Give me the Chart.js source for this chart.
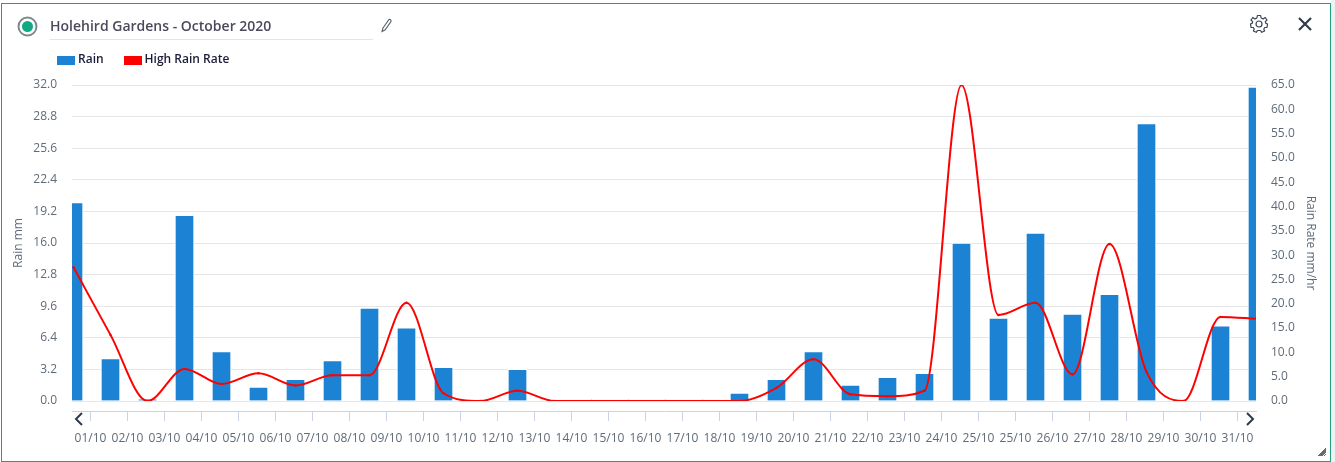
<!DOCTYPE html>
<html>
<head>
<meta charset="utf-8">
<title>Holehird Gardens - October 2020</title>
<script src="https://cdn.jsdelivr.net/npm/chart.js@4"></script>
<style>
    html, body { margin: 0; padding: 0; background: #fff; }
    #strip { position: absolute; left: 1331px; top: 0; width: 4px; height: 462px; background: #f1f1f1; }
    #panel { position: absolute; left: 1px; top: 3px; width: 1328px; height: 457px; background: #fff; border: 1px solid #1f9e86; }
    #wrap { position: absolute; left: 0; top: 0; width: 1335px; height: 462px; }
    #title { position: absolute; left: 50px; top: 16px; width: 323px; height: 23px; border-bottom: 1px solid #e4e4e4; font: 600 14px "Open Sans", sans-serif; line-height: 20px; color: #4a4a5c; white-space: nowrap; }
    svg.icon { position: absolute; overflow: visible; }
</style>
</head>
<body>
<div id="strip"></div>
<div id="panel"></div>
<div id="wrap"><canvas id="chart" width="1335" height="462"></canvas></div>
<div id="title">Holehird Gardens - October 2020</div>

<!-- иконки заголовка -->
<svg class="icon" style="left:17px;top:16px" width="21" height="21">
    <circle cx="10.5" cy="10.5" r="9" fill="none" stroke="#7d8a8c" stroke-width="2"/>
    <circle cx="10.5" cy="10.5" r="5.5" fill="#10a984"/>
</svg>
<svg class="icon" style="left:380px;top:18px" width="14" height="15">
    <path d="M3 10 L9 1.5 Q10.5 1 11 2.5 L11 3.5 L5 12 L2 13.5 Z" fill="none" stroke="#55606e" stroke-width="1.1"/>
</svg>
<svg class="icon" style="left:1249px;top:14px" width="20" height="20">
    <circle cx="10" cy="10" r="3" fill="none" stroke="#3c4452" stroke-width="1.2"/>
    <path d="M8.4 1.5 H11.6 L12.1 4 L14.1 4.9 L16.2 3.5 L18 6 L16.3 7.7 L16.7 9.1 L18.5 10 L18 13.3 L15.8 13.5 L14.8 15 L15.6 17 L12.8 18.3 L11.5 16.5 H8.5 L7.2 18.3 L4.4 17 L5.2 15 L4.2 13.5 L2 13.3 L1.5 10 L3.3 9.1 L3.7 7.7 L2 6 L3.8 3.5 L5.9 4.9 L7.9 4 Z" fill="none" stroke="#3c4452" stroke-width="1.2" stroke-linejoin="round"/>
</svg>
<svg class="icon" style="left:1298px;top:17px" width="14" height="14">
    <path d="M1 1 L13 13 M13 1 L1 13" stroke="#333b4a" stroke-width="2.2" fill="none"/>
</svg>

<!-- стрелки навигатора -->
<svg class="icon" style="left:74px;top:412px" width="10" height="14">
    <path d="M8 1 L2 7 L8 13" stroke="#2f3b4c" stroke-width="2" fill="none"/>
</svg>
<svg class="icon" style="left:1245px;top:412px" width="10" height="14">
    <path d="M2 1 L8 7 L2 13" stroke="#2f3b4c" stroke-width="2" fill="none"/>
</svg>

<!-- уголок изменения размера -->
<svg class="icon" style="left:1318px;top:448px" width="8" height="8">
    <path d="M0 8 L8 0 M2 8 L8 2 M4 8 L8 4 M6 8 L8 6 M1 8 L8 1 M3 8 L8 3" stroke="#444" stroke-width="0.8" fill="none"/>
</svg>

<script>
// Подписи оси: 25/10 идёт два раза (перевод часов)
const dayLabels = ['01/10', '02/10', '03/10', '04/10', '05/10', '06/10', '07/10', '08/10', '09/10', '10/10',
    '11/10', '12/10', '13/10', '14/10', '15/10', '16/10', '17/10', '18/10', '19/10', '20/10',
    '21/10', '22/10', '23/10', '24/10', '25/10', '25/10', '26/10', '27/10', '28/10', '29/10', '30/10', '31/10'];

// Столбцы стоят на границах дней, поэтому их на один больше, чем подписей
const barSlots = [0, 1, 2, 3, 4, 5, 6, 7, 8, 9, 10, 11, 12, 13, 14, 15, 16,
    17, 18, 19, 20, 21, 22, 23, 24, 25, 26, 27, 28, 29, 30, 31, 32];

const rainValues = [20.1, 4.3, 0.2, 18.8, 5.0, 1.4, 2.2, 4.1, 9.4, 7.4, 3.4,
    0, 3.2, 0, 0, 0, 0, 0, 0.8, 2.2, 5.0, 1.6,
    2.4, 2.8, 16.0, 8.4, 17.0, 8.8, 10.8, 28.1, 0, 7.6, 31.8];

const rainRateValues = [27.5, 13.6, 0, 6.6, 3.5, 5.7, 3.2, 5.3, 5.3, 20.2, 1.6,
    0, 2.1, 0, 0, 0, 0, 0, 0, 2.7, 8.6, 1.4,
    1.0, 2.1, 65, 17.7, 20.2, 5.5, 32.3, 6, 0, 17.3, 16.9];

const rainTicks = [0, 3.2, 6.4, 9.6, 12.8, 16, 19.2, 22.4, 25.6, 28.8, 32];
const rateTicks = [0, 5, 10, 15, 20, 25, 30, 35, 40, 45, 50, 55, 60, 65];

const tickFont = { family: '"Open Sans", sans-serif', size: 12 };
const tickColor = '#5f6b78';

// Значок легенды 18x9
function legendSwatch(color) {
    const swatch = document.createElement('canvas');
    swatch.width = 18;
    swatch.height = 9;
    const swatchCtx = swatch.getContext('2d');
    swatchCtx.fillStyle = color;
    swatchCtx.fillRect(0, 0, 18, 9);
    return swatch;
}

function pairUp(values) {
    return barSlots.map((slot, i) => ({ x: slot, y: values[i] }));
}

new Chart(document.getElementById('chart').getContext('2d'), {
    data: {
        datasets: [
            {
                type: 'line',
                label: 'High Rain Rate',
                data: pairUp(rainRateValues),
                yAxisID: 'yRate',
                xAxisID: 'x',
                borderColor: '#ff0000',
                backgroundColor: '#ff0000',
                borderWidth: 2,
                cubicInterpolationMode: 'monotone',
                pointRadius: 1.2,
                pointBorderWidth: 0,
                order: 1
            },
            {
                type: 'bar',
                label: 'Rain',
                data: pairUp(rainValues),
                yAxisID: 'yRain',
                xAxisID: 'x',
                backgroundColor: '#1c83d4',
                borderColor: '#ffffff',
                borderWidth: 1,
                barThickness: 19,
                order: 2
            }
        ]
    },
    options: {
        responsive: false,
        animation: false,
        layout: { padding: { top: 40, left: 0, right: 0, bottom: 0 } },
        plugins: {
            tooltip: { enabled: false },
            legend: {
                position: 'top',
                align: 'start',
                reverse: true,
                labels: {
                    usePointStyle: true,
                    boxWidth: 12,
                    padding: 23,
                    color: '#1b1b3a',
                    font: { family: '"Open Sans", sans-serif', size: 12, weight: '600' },
                    generateLabels(chart) {
                        const items = Chart.defaults.plugins.legend.labels.generateLabels(chart);
                        items.forEach(item => { item.pointStyle = legendSwatch(item.fillStyle); });
                        return items;
                    }
                }
            }
        },
        scales: {
            // ось данных: столбцы сдвинуты на полтора пикселя от края
            x: {
                type: 'linear',
                position: 'bottom',
                offset: false,
                min: -0.0405,
                max: 31.9595,
                grid: { display: false },
                border: { display: false },
                ticks: { display: false },
                afterFit(scale) { scale.height = 10; }
            },
            // ось подписей: 32 дня, метки между столбцами
            xDays: {
                type: 'category',
                position: 'bottom',
                labels: dayLabels,
                offset: true,
                grid: { drawOnChartArea: false, tickLength: 10, color: '#c8d3e6', offset: false },
                border: { display: true, color: '#c8d3e6' },
                ticks: { color: tickColor, font: tickFont, padding: 10, maxRotation: 0, autoSkip: false },
                afterFit(scale) { scale.height = 51; }
            },
            yRain: {
                position: 'left',
                min: 0,
                max: 32,
                afterBuildTicks(scale) { scale.ticks = rainTicks.map(v => ({ value: v })); },
                grid: { color: '#e6e6e6', drawTicks: false },
                border: { display: false },
                ticks: { color: tickColor, font: tickFont, padding: 15, callback: v => v.toFixed(1) },
                title: { display: true, text: 'Rain mm', color: tickColor, font: tickFont, padding: { top: 11, bottom: 0 } },
                afterFit(scale) { scale.width = 72; }
            },
            yRate: {
                position: 'right',
                min: 0,
                max: 65,
                afterBuildTicks(scale) { scale.ticks = rateTicks.map(v => ({ value: v })); },
                grid: { display: false, drawTicks: false },
                border: { display: false },
                ticks: { color: tickColor, font: tickFont, padding: 15, callback: v => v.toFixed(1) },
                title: { display: true, text: 'Rain Rate mm/hr', color: tickColor, font: tickFont, padding: { top: 17, bottom: 0 } },
                afterFit(scale) { scale.width = 79; }
            }
        }
    },
    plugins: [{
        // легенду ставим над осью, выше области графика
        id: 'legendPlace',
        afterLayout(chart) {
            chart.legend.left = 37;
            chart.legend.top = 31;
        }
    }]
});
</script>
</body>
</html>
